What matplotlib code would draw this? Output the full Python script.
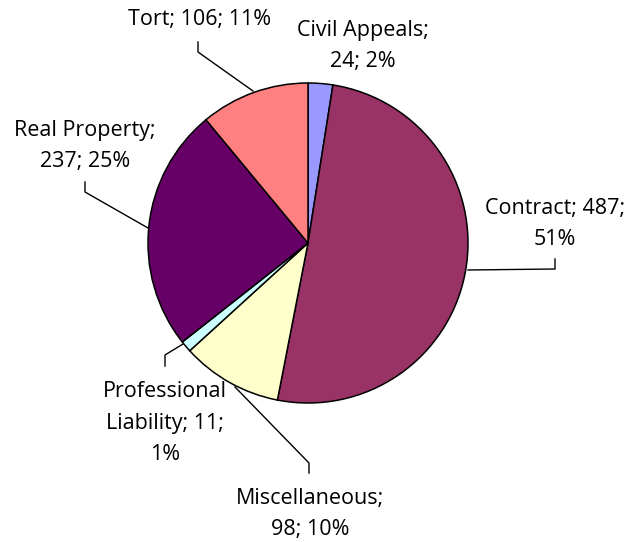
import matplotlib
matplotlib.use("Agg")
import matplotlib.pyplot as plt

categories = ["Civil Appeals", "Contract", "Miscellaneous", "Professional Liability", "Real Property", "Tort"]
values = [24, 487, 98, 11, 237, 106]
percents = ["2%", "51%", "10%", "1%", "25%", "11%"]
colors = ["#9999FF", "#993366", "#FFFFCC", "#CCFFFF", "#660066", "#FF8080"]

label_texts = [
    "Civil Appeals;\n24; 2%",
    "Contract; 487;\n51%",
    "Miscellaneous;\n98; 10%",
    "Professional\nLiability; 11;\n1%",
    "Real Property;\n237; 25%",
    "Tort; 106; 11%",
]

W, H = 632, 542
fig = plt.figure(figsize=(W / 100, H / 100), dpi=100)
ax = fig.add_axes([0, 0, 1, 1])

cx, cy, r = 308, 243, 160
# y axis inverted -> counterclock=True is visually clockwise
ax.pie(values, colors=colors, startangle=-90, counterclock=True,
       center=(cx, cy), radius=r,
       wedgeprops=dict(edgecolor="black", linewidth=1.1), frame=True)
ax.set_xlim(0, W)
ax.set_ylim(H, 0)
ax.set_aspect("equal")
ax.axis("off")

# label positions (pixel layout)
label_pos = [(363, 46), (555, 224), (310, 514), (165, 423), (85, 146), (200, 20)]
leaders = [
    None,
    [(468, 270), (555, 269), (555, 259)],
    [(235, 387), (309, 463), (309, 473)],
    [(183, 344), (165, 355), (165, 366)],
    [(148, 228), (85, 192), (85, 182)],
    [(253, 91), (198, 52), (198, 42)],
]

font = ["Open Sans", "DejaVu Sans"]
for txt, (x, y) in zip(label_texts, label_pos):
    ax.text(x, y, txt, ha="center", va="center", fontsize=15.5,
            family=font, linespacing=1.68, color="black")

for pts in leaders:
    if pts is None:
        continue
    xs = [p[0] for p in pts]
    ys = [p[1] for p in pts]
    ax.plot(xs, ys, color="black", linewidth=1.0)

fig.savefig("out.png", dpi=100)
